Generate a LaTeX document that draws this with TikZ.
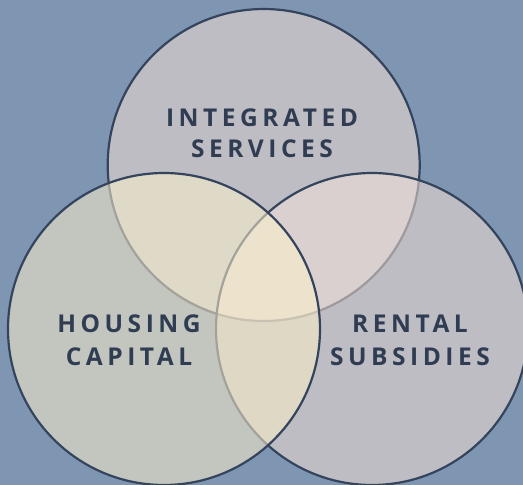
\documentclass[tikz,border=0pt]{standalone}
\usepackage{fontspec}
\setmainfont{Open Sans}[BoldFont={* Bold}]
\definecolor{bgc}{HTML}{7F96B2}
\definecolor{topc}{HTML}{BFBDC4}
\definecolor{rightc}{HTML}{BFBDC4}
\definecolor{leftc}{HTML}{C2C6BE}
\definecolor{tlc}{HTML}{DFD9C7}
\definecolor{trc}{HTML}{DAD0CF}
\definecolor{lrc}{HTML}{DFD8C5}
\definecolor{cenc}{HTML}{EDE2CB}
\definecolor{edgec}{HTML}{34445D}
\definecolor{grayl}{HTML}{A3A29B}
\definecolor{grayr}{HTML}{9D999C}
\definecolor{graylr}{HTML}{C9C1B1}
\definecolor{txtc}{HTML}{2F3C52}
\tikzset{
  edge/.style={draw=edgec, line width=2.2pt},
  lbl/.style={font=\bfseries\fontsize{24.5}{31}\selectfont\addfontfeature{LetterSpace=18.5}, text=txtc, align=center, inner sep=0pt, anchor=base}
}
\begin{document}
\begin{tikzpicture}[x=1pt,y=-1pt]
\useasboundingbox (0,0) rectangle (523,485);
\fill[bgc] (0,0) rectangle (523,485);
\def\Rad{156}
\coordinate (T) at (263.7,165);
\coordinate (L) at (164,329);
\coordinate (R) at (372,329);
\def\BigBox{(-10,-10) rectangle (533,495)}
% base fills
\fill[topc] (T) circle (\Rad);
\fill[rightc] (R) circle (\Rad);
\fill[leftc] (L) circle (\Rad);
% overlaps
\begin{scope}
  \clip (T) circle (\Rad);
  \fill[tlc] (L) circle (\Rad);
  \fill[trc] (R) circle (\Rad);
\end{scope}
\begin{scope}
  \clip (L) circle (\Rad);
  \fill[lrc] (R) circle (\Rad);
  \clip (R) circle (\Rad);
  \fill[cenc] (T) circle (\Rad);
\end{scope}
% outlines of the top circle
\begin{scope}[even odd rule]
  \clip \BigBox (L) circle (\Rad);
  \clip \BigBox (R) circle (\Rad);
  \draw[edge] (T) circle (\Rad);
\end{scope}
\begin{scope}[even odd rule]
  \clip (L) circle (\Rad);
  \clip \BigBox (R) circle (\Rad);
  \draw[edge, draw=grayl] (T) circle (\Rad);
\end{scope}
\begin{scope}[even odd rule]
  \clip (R) circle (\Rad);
  \clip \BigBox (L) circle (\Rad);
  \draw[edge, draw=grayr] (T) circle (\Rad);
\end{scope}
\begin{scope}
  \clip (L) circle (\Rad);
  \clip (R) circle (\Rad);
  \draw[edge, draw=graylr] (T) circle (\Rad);
\end{scope}
% outlines of the right circle
\begin{scope}[even odd rule]
  \clip \BigBox (L) circle (\Rad);
  \draw[edge] (R) circle (\Rad);
\end{scope}
\begin{scope}
  \clip (L) circle (\Rad);
  \draw[edge, draw=grayl] (R) circle (\Rad);
\end{scope}
% outline of the left circle
\draw[edge] (L) circle (\Rad);
% labels
\node[lbl] (is1) at (262,126) {INTEGRATED};
\node[lbl] (is2) at (262,157) {SERVICES};
\node[lbl] (hc1) at (129,332) {HOUSING};
\node[lbl] (hc2) at (129,365) {CAPITAL};
\node[lbl] (rs1) at (410,332) {RENTAL};
\node[lbl] (rs2) at (410,365) {SUBSIDIES};
\end{tikzpicture}
\end{document}
